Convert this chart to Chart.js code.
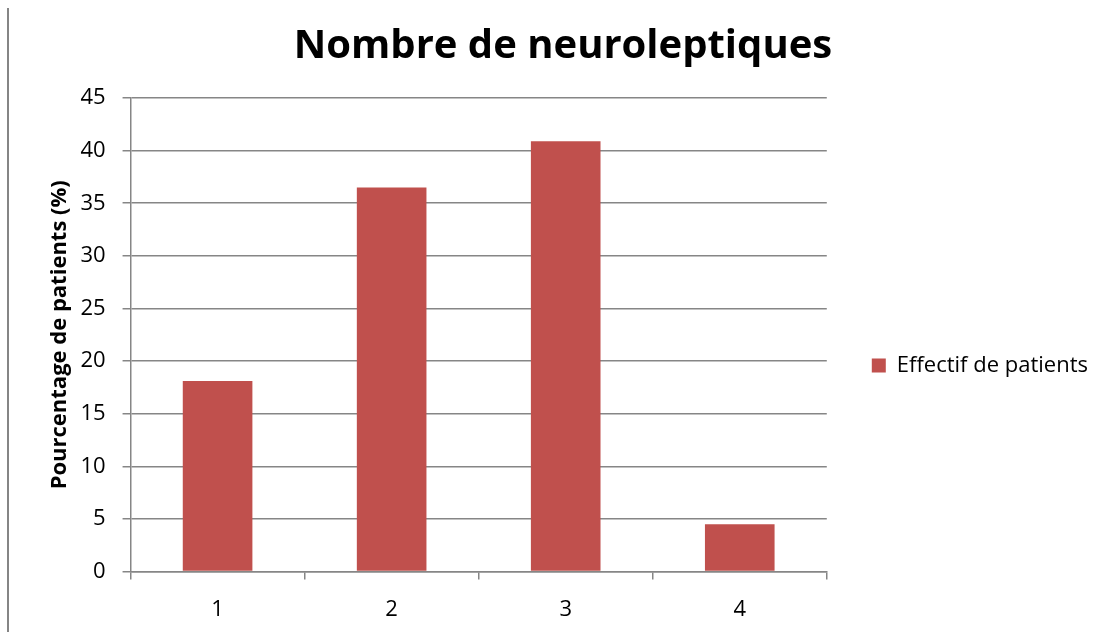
<!DOCTYPE html>
<html>
<head>
<meta charset="utf-8">
<script src="https://cdn.jsdelivr.net/npm/chart.js@4/dist/chart.umd.min.js"></script>
<style>
html,body{margin:0;padding:0;background:#fff;}
#wrap{width:1109px;height:632px;}
</style>
</head>
<body>
<div id="wrap"><canvas id="c" width="1109" height="632"></canvas></div>
<script>
const categories = ['1', '2', '3', '4'];
const seriesName = 'Effectif de patients';
const values = [18.1, 36.5, 40.9, 4.5];
const yTicks = [0, 5, 10, 15, 20, 25, 30, 35, 40, 45];
const titleText = 'Nombre de neuroleptiques';
const yTitle = 'Pourcentage de patients (%)';

const FONT = "'Open Sans', 'Liberation Sans', sans-serif";

const frameLine = {
  id: 'frameLine',
  beforeDraw(chart) {
    const ctx = chart.ctx;
    ctx.save();
    ctx.fillStyle = '#fff';
    ctx.fillRect(0, 0, chart.width, chart.height);
    ctx.strokeStyle = '#858585';
    ctx.lineWidth = 2;
    ctx.beginPath();
    ctx.moveTo(8, 8);
    ctx.lineTo(8, 632);
    ctx.stroke();
    ctx.restore();
  }
};

new Chart(document.getElementById('c'), {
  type: 'bar',
  data: {
    labels: categories,
    datasets: [{
      label: seriesName,
      data: values,
      backgroundColor: '#c0504d',
      borderColor: '#c0504d',
      borderWidth: 0,
      categoryPercentage: 1.0,
      barPercentage: 0.4
    }]
  },
  options: {
    responsive: false,
    animation: false,
    devicePixelRatio: 1,
    layout: { padding: { left: 28, right: 11, top: 19, bottom: -8 } },
    plugins: {
      title: {
        display: true,
        text: titleText,
        color: '#000',
        font: { family: FONT, size: 40, weight: 'bold' },
        padding: { top: 4, bottom: 27 }
      },
      legend: {
        display: true,
        position: 'right',
        align: 'center',
        maxWidth: 300,
        title: { display: true, text: ' ', font: { size: 10 }, padding: 30 },
        labels: {
          boxWidth: 14,
          boxHeight: 14,
          padding: 45,
          color: '#000',
          font: { family: FONT, size: 22 }
        }
      },
      tooltip: { enabled: false }
    },
    scales: {
      x: {
        grid: {
          display: true,
          offset: true,
          drawOnChartArea: false,
          drawTicks: true,
          tickLength: 8,
          color: '#868686',
          lineWidth: 1.5
        },
        border: { display: true, color: '#868686', width: 1.5 },
        ticks: {
          color: '#000',
          font: { family: FONT, size: 22 },
          padding: 17
        }
      },
      y: {
        min: 0,
        max: 45,
        afterBuildTicks(axis) { axis.ticks = yTicks.map(v => ({ value: v })); },
        grid: {
          color: '#868686',
          lineWidth: 1.5,
          drawTicks: true,
          tickLength: 8
        },
        border: { display: true, color: '#868686', width: 1.5 },
        ticks: {
          color: '#000',
          font: { family: FONT, size: 22 },
          padding: 17
        },
        title: {
          display: true,
          text: yTitle,
          color: '#000',
          font: { family: FONT, size: 22, weight: 'bold' },
          padding: { top: 19, bottom: -10 }
        }
      }
    }
  },
  plugins: [frameLine]
});
</script>
</body>
</html>
